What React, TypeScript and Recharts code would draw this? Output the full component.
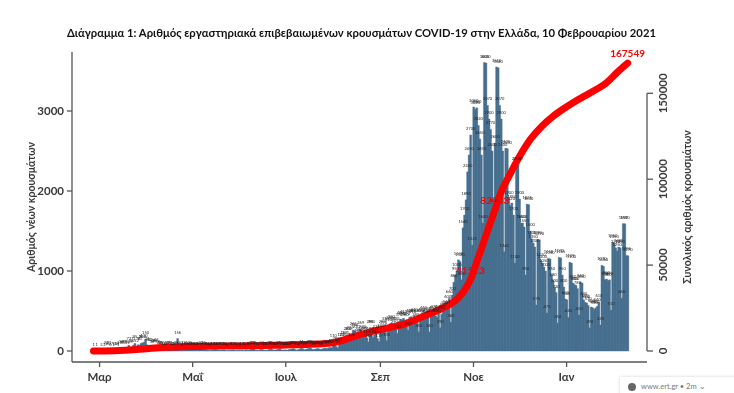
import { ComposedChart, Bar, Line, XAxis, YAxis, LabelList } from "recharts";

// daily new cases, one array per month (26 Feb 2020 - 10 Feb 2021)
const feb20 = [1, 0, 1, 0];
const mar20 = [0, 3, 0, 2, 22, 14, 21, 6, 7, 1, 15, 18, 1, 19, 38, 31, 37, 35, 31, 72, 35, 46, 71, 95, 52, 78, 73, 95, 102, 110, 150];
const apr20 = [77, 60, 62, 34, 48, 54, 62, 38, 24, 25, 20, 14, 15, 19, 25, 21, 12, 13, 14, 25, 156, 15, 27, 4, 15, 21, 15, 11, 25, 18];
const may20 = [15, 10, 12, 9, 11, 20, 8, 25, 16, 14, 10, 6, 8, 11, 13, 18, 10, 9, 7, 12, 14, 11, 6, 5, 9, 8, 13, 10, 7, 6, 9];
const jun20 = [6, 10, 7, 5, 15, 9, 12, 20, 24, 28, 11, 9, 7, 15, 22, 14, 10, 8, 12, 19, 26, 18, 9, 11, 16, 24, 30, 13, 10, 14];
const jul20 = [14, 10, 18, 22, 26, 30, 19, 11, 16, 24, 34, 28, 15, 19, 26, 33, 38, 22, 18, 21, 28, 31, 25, 18, 27, 34, 36, 29, 40, 45, 38];
const aug20 = [110, 78, 56, 37, 80, 121, 124, 153, 151, 203, 202, 217, 126, 262, 254, 230, 169, 187, 269, 222, 216, 201, 165, 114, 293, 284, 168, 202, 231, 155, 117];
const sep20 = [240, 290, 270, 330, 130, 310, 340, 350, 320, 290, 330, 220, 370, 400, 390, 410, 380, 390, 260, 420, 430, 410, 440, 380, 420, 240, 430, 440, 460, 410];
const oct20 = [420, 450, 240, 430, 460, 470, 440, 420, 470, 290, 460, 500, 520, 540, 600, 660, 360, 700, 860, 950, 1000, 1140, 1120, 890, 1540, 1700, 1890, 2240, 2450, 2700, 1325];
const nov20 = [3050, 3020, 3040, 2820, 2650, 2450, 1600, 3605, 3600, 3070, 2900, 2770, 2500, 1800, 2600, 3550, 3540, 3070, 2900, 2500, 1240, 2535, 2530, 1900, 1820, 1850, 1700, 1100, 2325, 2320];
const dec20 = [1900, 1600, 1600, 1550, 950, 1835, 1830, 1500, 1400, 1350, 1300, 575, 1395, 1390, 1130, 1100, 1050, 1000, 475, 1158, 1150, 950, 880, 800, 730, 350, 1170, 1165, 950, 800, 650];
const jan21 = [640, 420, 1109, 1100, 850, 830, 820, 780, 450, 860, 850, 640, 610, 600, 570, 290, 550, 540, 520, 540, 560, 610, 325, 1070, 1060, 890, 900, 880, 890, 510, 1360];
const feb21 = [1350, 1290, 1250, 1300, 1290, 660, 1592, 1590, 1195, 1190];

const newCases = [...feb20, ...mar20, ...apr20, ...may20, ...jun20, ...jul20, ...aug20, ...sep20, ...oct20, ...nov20, ...dec20, ...jan21, ...feb21];

// running total, once a week
const weeklyTotals = [
  0, 30, 150, 450, 850, 1350, 1900, 2200, 2400, 2580, 2680, 2780, 2850, 2900, 2950, 3050, 3150,
  3280, 3450, 3650, 3850, 4050, 4450, 5600, 7600, 9600, 11200, 12700, 14000, 15500, 17800, 20500,
  23000, 26000, 30000, 38000, 54000, 72000, 90000, 103000, 114500, 124000, 131000, 136500, 141000,
  145000, 148500, 152000, 156000, 162000, 167549,
];
const labelledDays = [247, 263];
const labelledTotals = [41513, 82033];

const monthTicks = ["2020-03-01", "2020-05-01", "2020-07-01", "2020-09-01", "2020-11-01", "2021-01-01"];
const monthLabels = ["Μαρ", "Μαΐ", "Ιουλ", "Σεπ", "Νοε", "Ιαν"];
const leftTicks = [0, 1000, 2000, 3000];
const rightTicks = [0, 50000, 100000, 150000];

const dayName = (i: number) => new Date(Date.UTC(2020, 1, 26 + i)).toISOString().slice(0, 10);

const rows = newCases.map((cases, i) => {
  const labelAt = labelledDays.indexOf(i);
  let total: number | null = null;
  if (i % 7 === 0) total = weeklyTotals[i / 7];
  if (labelAt >= 0) total = labelledTotals[labelAt];
  return { day: dayName(i), cases, total };
});

const FONT = "Lato, sans-serif";
const INK = "#3a3a3a";
const AXIS = "#555";

function RightTick({ x, y, payload }: any) {
  return (
    <g>
      {payload.value > 0 && <line x1={x} x2={x} y1={y} y2={y + 86} stroke={AXIS} strokeWidth={1.3} />}
      <line x1={x} x2={x + 6} y1={y} y2={y} stroke={AXIS} strokeWidth={1.3} />
      <text
        x={x + 20}
        y={y}
        transform={`rotate(-90 ${x + 20} ${y})`}
        textAnchor="middle"
        fontSize={11.5}
        fontFamily={FONT}
        fontWeight={700}
        fill={INK}
      >
        {payload.value}
      </text>
    </g>
  );
}

function TotalLabel({ x, y, value }: any) {
  if (value == null || (value !== 167549 && !labelledTotals.includes(value))) return null;
  return (
    <text x={x} y={y - 6} textAnchor="middle" fontSize={10} fontWeight={700} fontFamily={FONT} fill="#ff0000">
      {value}
    </text>
  );
}

export default function App() {
  return (
    <div style={{ position: "absolute", left: 0, top: 0, width: 734, height: 393, background: "#fff", overflow: "hidden" }}>
      <div style={{ filter: "blur(0.3px)" }}>
        <div
          style={{
            position: "absolute",
            left: 67,
            top: 26,
            whiteSpace: "nowrap",
            fontFamily: FONT,
            fontWeight: 700,
            fontSize: 11.25,
            color: "#111",
          }}
        >
          Διάγραμμα 1: Αριθμός εργαστηριακά επιβεβαιωμένων κρουσμάτων COVID-19 στην Ελλάδα, 10 Φεβρουαρίου 2021
        </div>
        <ComposedChart
          width={734}
          height={393}
          data={rows}
          barCategoryGap={0}
          barGap={0}
          margin={{ top: 52, right: 0, bottom: 0, left: 0 }}
        >
          <XAxis
            dataKey="day"
            height={31}
            ticks={monthTicks}
            interval={0}
            padding={{ left: 20.7, right: 18.6 }}
            tickFormatter={(d: string) => monthLabels[monthTicks.indexOf(d)]}
            tick={{ fontSize: 11.5, fontFamily: FONT, fontWeight: 700, fill: INK }}
            tickSize={5}
            tickMargin={6}
            axisLine={{ stroke: AXIS, strokeWidth: 1.3 }}
            tickLine={{ stroke: AXIS, strokeWidth: 1.3 }}
          />
          <YAxis
            yAxisId="left"
            width={72}
            domain={[-137.5, 3737.5]}
            ticks={leftTicks}
            interval={0}
            tick={{ fontSize: 11.5, fontFamily: FONT, fontWeight: 700, fill: INK }}
            tickSize={5}
            tickMargin={3}
            axisLine={{ stroke: AXIS, strokeWidth: 1.3 }}
            tickLine={{ stroke: AXIS, strokeWidth: 1.3 }}
            label={{
              value: "Αριθμός νέων κρουσμάτων",
              angle: -90,
              position: "insideLeft",
              offset: 31,
              dy: 0,
              style: { fontSize: 10.5, fontFamily: FONT, fontWeight: 700, fill: INK, textAnchor: "middle" },
            }}
          />
          <YAxis
            yAxisId="right"
            orientation="right"
            width={87}
            domain={[-6403, 174040]}
            ticks={rightTicks}
            interval={0}
            axisLine={false}
            tickLine={false}
            tickSize={0}
            tickMargin={0}
            tick={<RightTick />}
            label={{
              value: "Συνολικός αριθμός κρουσμάτων",
              angle: -90,
              position: "insideRight",
              offset: 47,
              dy: 0,
              style: { fontSize: 10.5, fontFamily: FONT, fontWeight: 700, fill: INK, textAnchor: "middle" },
            }}
          />
          <Bar yAxisId="left" dataKey="cases" fill="#476f8f" stroke="#476f8f" strokeWidth={0.35} isAnimationActive={false}>
            <LabelList dataKey="cases" position="top" offset={5} fontSize={4} fontFamily={FONT} fill="#222" />
          </Bar>
          <Line
            yAxisId="right"
            dataKey="total"
            type="monotone"
            connectNulls
            stroke="#ff0000"
            strokeWidth={7}
            strokeLinecap="round"
            strokeLinejoin="round"
            dot={false}
            label={<TotalLabel />}
            isAnimationActive={false}
          />
        </ComposedChart>
      </div>
      <div
        style={{
          position: "absolute",
          left: 620,
          top: 377,
          width: 120,
          height: 24,
          background: "#fff",
          boxShadow: "0 0 3px rgba(0,0,0,0.18)",
          fontFamily: FONT,
          fontSize: 7.5,
          color: "#777",
          whiteSpace: "nowrap",
        }}
      >
        <span
          style={{
            position: "absolute",
            left: 8,
            top: 6,
            width: 8,
            height: 8,
            borderRadius: 4,
            background: "#666",
          }}
        />
        <span style={{ position: "absolute", left: 21, top: 5 }}>www.ert.gr • 2m ⌄</span>
      </div>
    </div>
  );
}
